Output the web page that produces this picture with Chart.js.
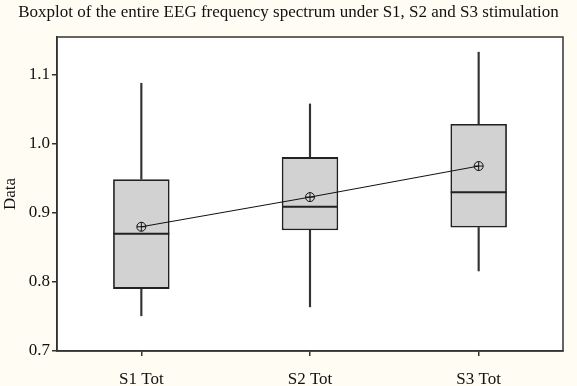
<!DOCTYPE html>
<html lang="en">
    <head>
        <meta charset="utf-8" />
        <script src="https://cdn.jsdelivr.net/npm/chart.js@4.4.1/dist/chart.umd.min.js"></script>
        <title>Boxplot EEG</title>
        <style>
            html, body { margin: 0; padding: 0; background: #fffdf3; }
            #wrap { width: 577px; height: 386px; }
        </style>
    </head>
    <body>
        <div id="wrap"><canvas id="grafico" width="577" height="386"></canvas></div>
        <script>
            const categorias = ["S1 Tot", "S2 Tot", "S3 Tot"];
            const bigoteBajo = [0.751, 0.764, 0.816];
            const q1 = [0.790, 0.875, 0.879];
            const mediana = [0.870, 0.909, 0.930];
            const q3 = [0.949, 0.981, 1.029];
            const bigoteAlto = [1.088, 1.058, 1.133];
            const media = [0.880, 0.923, 0.968];
            const ticksY = [0.7, 0.8, 0.9, 1.0, 1.1];

            const pares = (a, b) => a.map((v, i) => [v, b[i]]);
            const serif = "'Liberation Serif', 'DejaVu Serif', serif";

            // fondo crema, area blanca y marco
            const marco = {
                id: "marco",
                beforeDraw(chart) {
                    const { ctx, chartArea: a } = chart;
                    ctx.save();
                    ctx.fillStyle = "#fffdf3";
                    ctx.fillRect(0, 0, chart.width, chart.height);
                    ctx.fillStyle = "#ffffff";
                    ctx.fillRect(a.left, a.top, a.right - a.left, a.bottom - a.top);
                    ctx.restore();
                },
                afterDraw(chart) {
                    const { ctx, chartArea: a } = chart;
                    ctx.save();
                    ctx.strokeStyle = "#333";
                    ctx.lineWidth = 1.5;
                    ctx.strokeRect(a.left, a.top, a.right - a.left, a.bottom - a.top);
                    ctx.restore();
                }
            };

            const bigote = {
                backgroundColor: "#333",
                borderWidth: 0,
                grouped: false,
                barThickness: 1.5,
                order: 3
            };

            new Chart(document.getElementById("grafico").getContext("2d"), {
                type: "bar",
                data: {
                    labels: categorias,
                    datasets: [
                        { type: "line", data: media, borderColor: "#111", borderWidth: 1, pointStyle: "circle", pointRadius: 4.5, pointBorderWidth: 1, pointBackgroundColor: "rgba(0,0,0,0)", pointBorderColor: "#111", order: 0 },
                        { type: "line", data: media, showLine: false, pointStyle: "cross", pointRadius: 4.5, pointBorderWidth: 1, pointBorderColor: "#111", order: 0 },
                        // mediana como segmento horizontal
                        { type: "line", data: mediana, showLine: false, pointStyle: "line", pointRadius: 28, pointBorderWidth: 2, pointBorderColor: "#222", order: 1 },
                        { data: pares(q1, q3), backgroundColor: "#d2d2d2", borderColor: "#222", borderWidth: 1.8, borderSkipped: false, grouped: false, categoryPercentage: 1, barPercentage: 0.335, order: 2 },
                        Object.assign({ data: pares(bigoteBajo, q1) }, bigote),
                        Object.assign({ data: pares(q3, bigoteAlto) }, bigote)
                    ]
                },
                options: {
                    responsive: false,
                    animation: false,
                    layout: { padding: 0, autoPadding: false },
                    scales: {
                        x: {
                            offset: true,
                            grid: { display: true, offset: false, drawOnChartArea: false, drawTicks: true, tickLength: 5, color: "#333", lineWidth: 1.5 },
                            border: { display: true, color: "#333", width: 1.5 },
                            ticks: { color: "#111", font: { family: serif, size: 17 }, padding: 13 },
                            afterFit: (s) => { s.height = 35; }
                        },
                        y: {
                            min: 0.7,
                            max: 1.155,
                            afterBuildTicks: (s) => { s.ticks = ticksY.map((v) => ({ value: v })); },
                            grid: { display: true, drawOnChartArea: false, drawTicks: true, tickLength: 5, color: "#333", lineWidth: 1.5 },
                            border: { display: true, color: "#333", width: 1.5 },
                            ticks: { color: "#111", font: { family: serif, size: 17 }, padding: 2, callback: (v) => Number(v).toFixed(1) },
                            title: { display: true, text: "Data", color: "#111", font: { family: serif, size: 17 }, padding: { top: 0, bottom: 0 } },
                            afterFit: (s) => { s.width = 57; }
                        },
                        // margen derecho vacio
                        yDer: {
                            position: "right",
                            display: true,
                            grid: { display: false },
                            border: { display: false },
                            ticks: { display: false },
                            afterFit: (s) => { s.width = 14; }
                        }
                    },
                    plugins: {
                        legend: { display: false },
                        tooltip: { enabled: false },
                        title: {
                            display: true,
                            text: "Boxplot of the entire EEG frequency spectrum under S1, S2 and S3 stimulation",
                            color: "#111",
                            font: { family: serif, size: 17, weight: "normal" },
                            padding: { top: 2, bottom: 14.6 }
                        }
                    }
                },
                plugins: [marco]
            });
        </script>
    </body>
</html>
